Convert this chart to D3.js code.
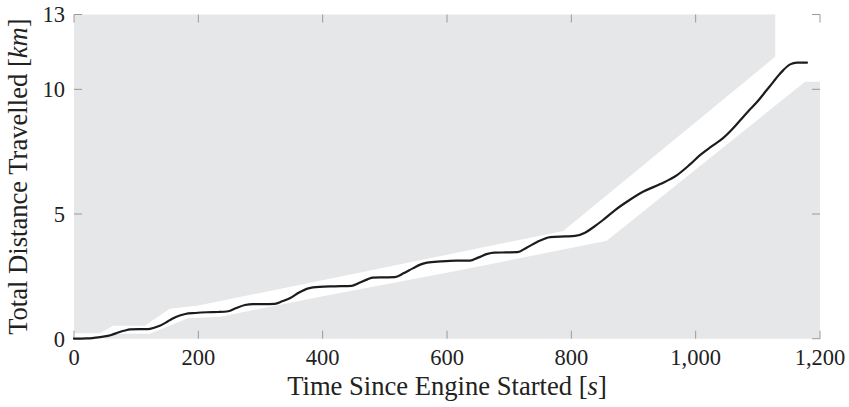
<!DOCTYPE html>
<html>
<head>
<meta charset="utf-8">
<script src="https://cdn.jsdelivr.net/npm/d3@7"></script>
<style>
  body { margin: 0; background: #fff; }
  svg { display: block; }
  text { font-family: "Liberation Serif", "Times New Roman", serif; fill: #222; }
</style>
</head>
<body>
<svg id="chart" width="849" height="407"></svg>
<script>
// ---- Data (time in s, distance in km) ----
const distTime = [0,20,34,47,60,71,82,90,105,119,130,138,150,158,170,179,195,214,232,248,260,275,288,305,323,335,348,362,377,395,420,447,460,472,481,500,516,530,545,558,568,590,615,637,650,665,676,695,713,728,745,758,766,790,806,822,836,851,870,890,916,943,970,990,1007,1025,1044,1058,1072,1085,1099,1112,1125,1133,1141,1152,1163,1179];
const distKm   = [0,0.01,0.04,0.08,0.15,0.25,0.33,0.37,0.38,0.38,0.45,0.52,0.68,0.8,0.93,0.99,1.03,1.06,1.07,1.1,1.22,1.35,1.39,1.39,1.4,1.5,1.63,1.85,2.02,2.08,2.1,2.12,2.25,2.38,2.45,2.46,2.47,2.62,2.82,2.98,3.05,3.1,3.13,3.13,3.25,3.4,3.45,3.46,3.47,3.65,3.88,4.02,4.07,4.1,4.12,4.25,4.48,4.76,5.15,5.5,5.9,6.2,6.56,6.97,7.36,7.7,8.04,8.38,8.77,9.13,9.5,9.9,10.3,10.55,10.77,11.0,11.07,11.07];

// upper bound of feasible corridor (gray above)
const upperTime = [0,42,63,114,154,200,787,1128];
const upperKm   = [0.22,0.22,0.52,0.52,1.2,1.33,4.32,11.31];
// lower bound of feasible corridor (gray below)
const lowerTime = [0,48,63,122,183,235,396,610,857,1176,1200];
const lowerKm   = [0,0,0.2,0.2,0.82,0.88,1.68,2.69,3.93,10.3,10.3];

const xTicks = [0,200,400,600,800,1000,1200];
const yTicks = [0,5,10,13];
const xDomain = [0,1200];
const yDomain = [0,13];

// ---- Layout ----
const svg = d3.select("#chart");
const L = 74, R = 820, T = 14.5, B = 338.7;
const x = d3.scaleLinear().domain(xDomain).range([L, R]);
const y = d3.scaleLinear().domain(yDomain).range([B, T]);
const gray = "#e6e7e9";

// Upper gray region
const upperPoly = [[0,13]].concat(upperTime.map((t,i)=>[t,upperKm[i]])).concat([[upperTime[upperTime.length-1],13]]);
svg.append("path")
  .attr("d", d3.line().x(d=>x(d[0])).y(d=>y(d[1]))(upperPoly) + "Z")
  .attr("fill", gray);

// Lower gray region
const lowerPoly = lowerTime.map((t,i)=>[t,lowerKm[i]]).concat([[1200,0],[0,0]]);
svg.append("path")
  .attr("d", d3.line().x(d=>x(d[0])).y(d=>y(d[1]))(lowerPoly) + "Z")
  .attr("fill", gray);

// Ticks (inward, on all four sides)
const tickLen = 8, tickColor = "#9a9a9a";
const tg = svg.append("g").attr("stroke", tickColor).attr("stroke-width", 1);
xTicks.forEach(v => {
  tg.append("line").attr("x1", x(v)).attr("x2", x(v)).attr("y1", B).attr("y2", B - tickLen);
  tg.append("line").attr("x1", x(v)).attr("x2", x(v)).attr("y1", T).attr("y2", T + tickLen);
});
yTicks.forEach(v => {
  tg.append("line").attr("x1", L).attr("x2", L + tickLen).attr("y1", y(v)).attr("y2", y(v));
  tg.append("line").attr("x1", R).attr("x2", R - tickLen).attr("y1", y(v)).attr("y2", y(v));
});

// Distance line
const pts = distTime.map((t,i)=>[t,distKm[i]]);
svg.append("path")
  .attr("d", d3.line().x(d=>x(d[0])).y(d=>y(d[1])).curve(d3.curveMonotoneX)(pts))
  .attr("fill", "none")
  .attr("stroke", "#1c1c1c")
  .attr("stroke-width", 2.2)
  .attr("stroke-linejoin", "round")
  .attr("stroke-linecap", "round");

// Tick labels
const fmt = d3.format(",");
svg.append("g").selectAll("text").data(xTicks).join("text")
  .attr("x", d => x(d)).attr("y", 365)
  .attr("text-anchor", "middle")
  .attr("font-size", 22.5)
  .text(d => fmt(d));
svg.append("g").selectAll("text").data(yTicks).join("text")
  .attr("x", 65).attr("y", d => y(d)).attr("dy", "0.35em")
  .attr("text-anchor", "end")
  .attr("font-size", 22.5)
  .text(d => fmt(d));

// Axis titles
const xt = svg.append("text").attr("x", (L+R)/2).attr("y", 395)
  .attr("text-anchor", "middle").attr("font-size", 26.6);
xt.append("tspan").text("Time Since Engine Started [");
xt.append("tspan").attr("font-style", "italic").text("s");
xt.append("tspan").text("]");

const yt = svg.append("text")
  .attr("transform", `translate(27,${(T+B)/2}) rotate(-90)`)
  .attr("text-anchor", "middle").attr("font-size", 26.6);
yt.append("tspan").text("Total Distance Travelled [");
yt.append("tspan").attr("font-style", "italic").text("km");
yt.append("tspan").text("]");
</script>
</body>
</html>
